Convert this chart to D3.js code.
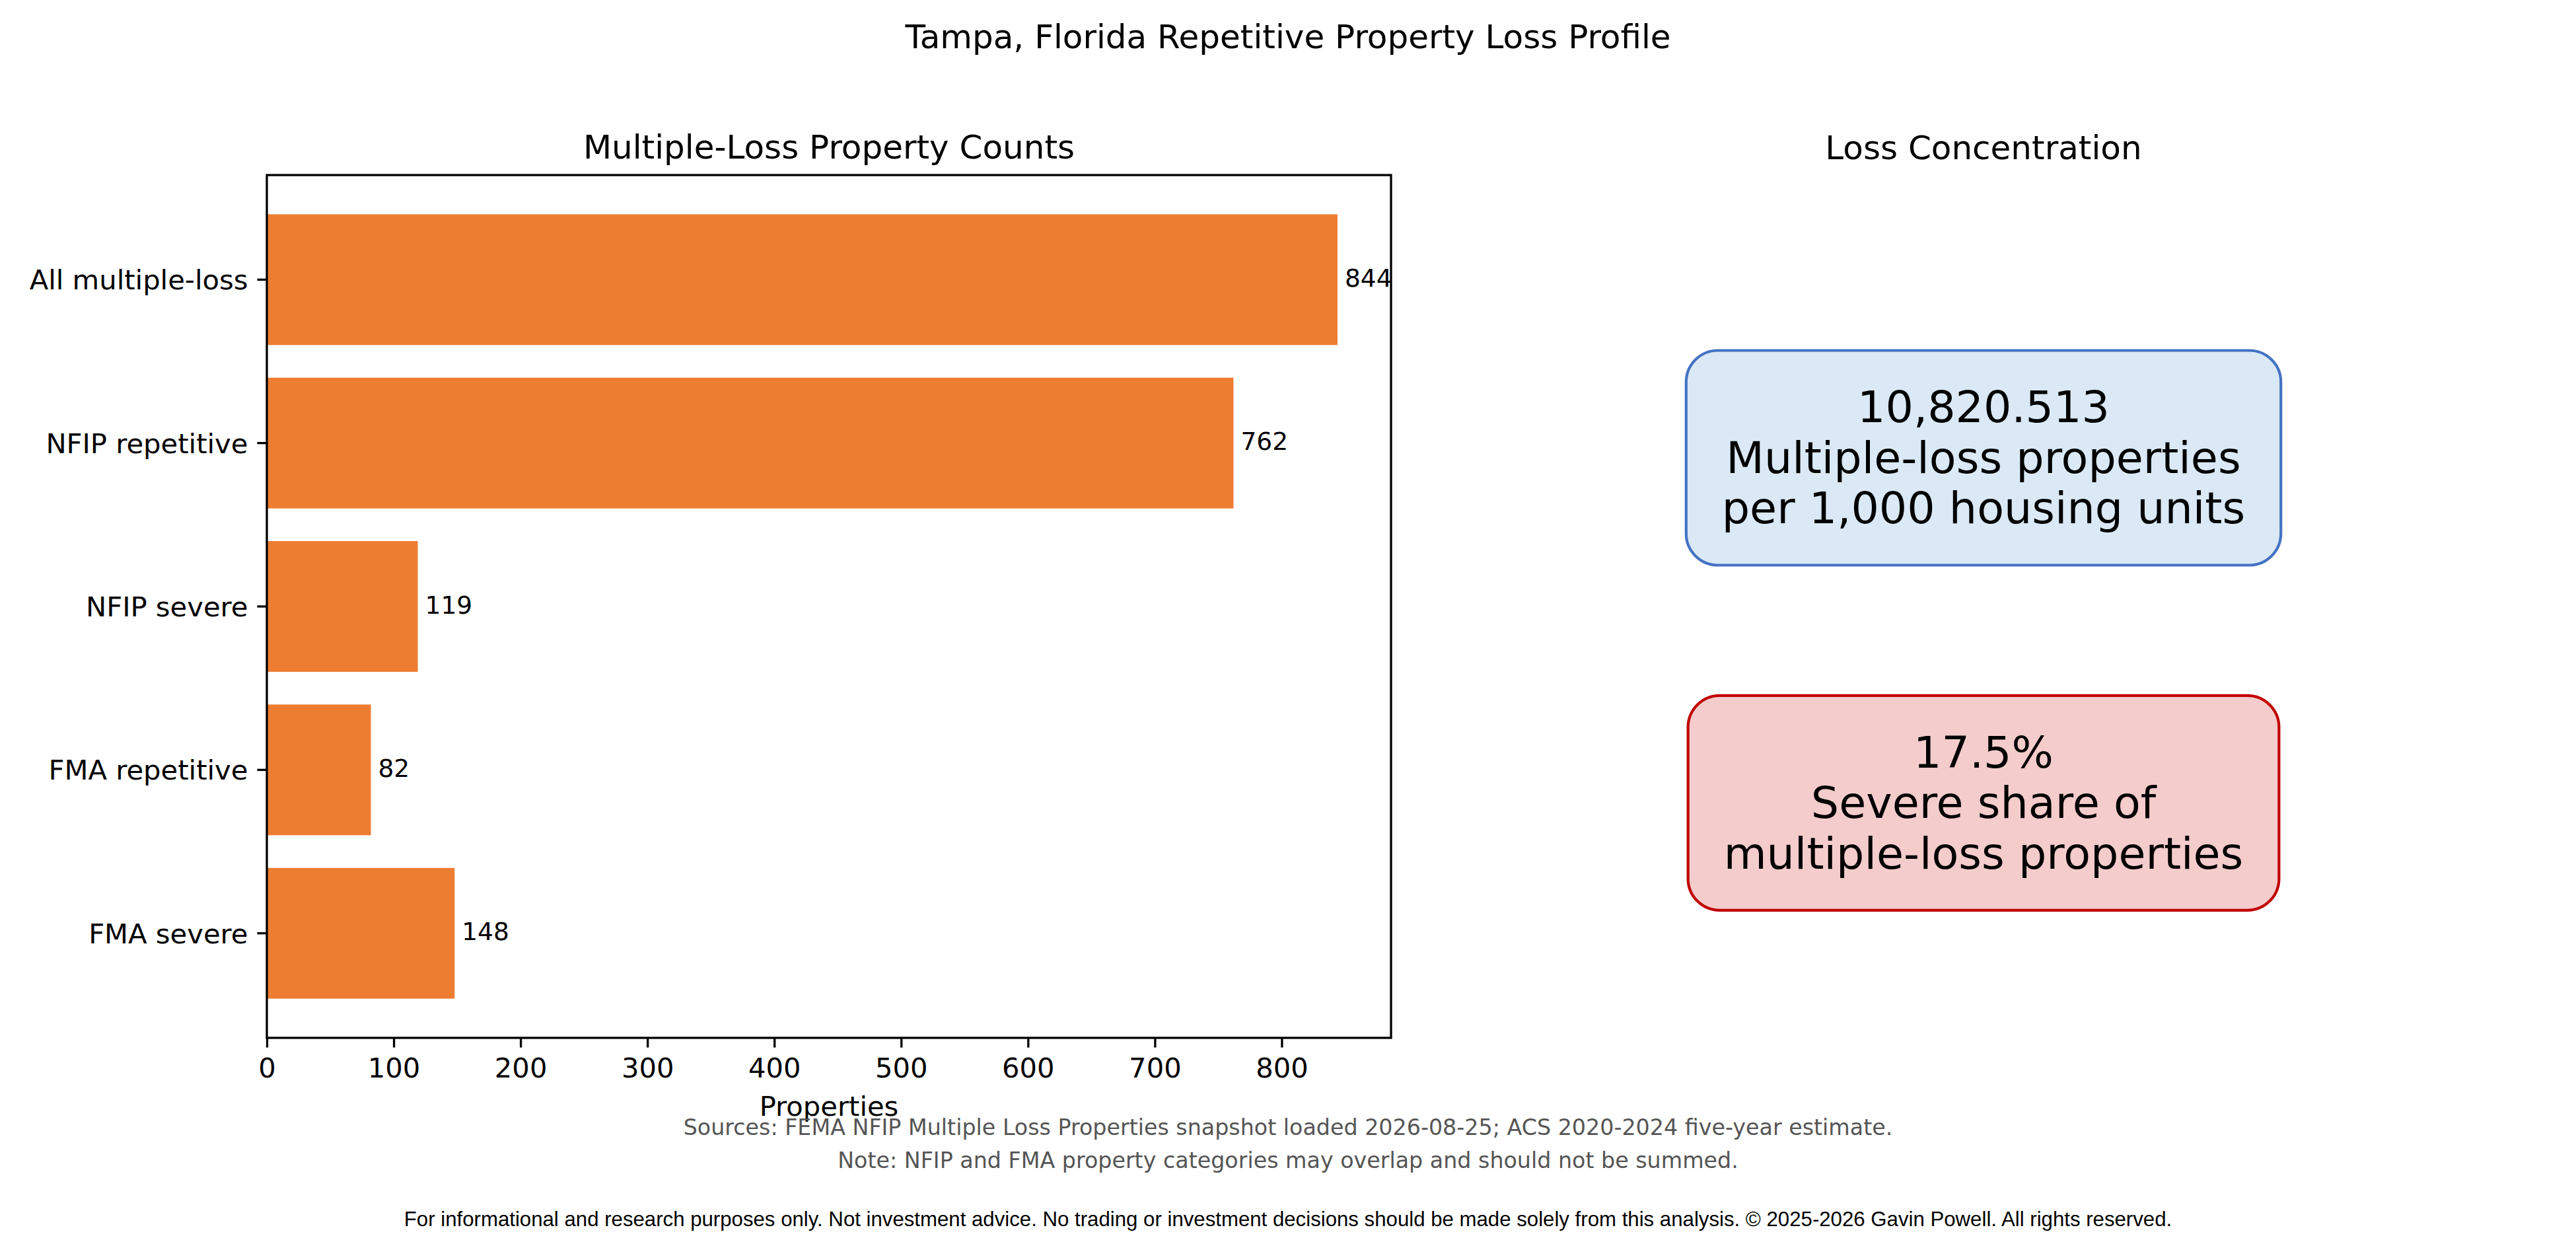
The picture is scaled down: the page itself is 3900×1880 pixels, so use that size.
<!DOCTYPE html>
<html>
<head>
<meta charset="utf-8">
<script src="https://cdn.jsdelivr.net/npm/d3@7"></script>
<style>
  html, body { margin: 0; padding: 0; background: #ffffff; }
  svg text { font-family: "DejaVu Sans", sans-serif; fill: #000; }
</style>
</head>
<body>
<div id="chart"></div>
<script>
// data
const categories = ['All multiple-loss', 'NFIP repetitive', 'NFIP severe', 'FMA repetitive', 'FMA severe'];
const counts     = [844, 762, 119, 82, 148];
const xTicks     = [0, 100, 200, 300, 400, 500, 600, 700, 800];

const kpiValues = ['10,820.513', '17.5%'];
const kpiLabels = [
  ['Multiple-loss properties', 'per 1,000 housing units'],
  ['Severe share of', 'multiple-loss properties']
];
const kpiPos = [0.67, 0.27];   // axes fraction (bottom = 0)

const suptitle   = 'Tampa, Florida Repetitive Property Loss Profile';
const leftTitle  = 'Multiple-Loss Property Counts';
const rightTitle = 'Loss Concentration';
const xLabel     = 'Properties';
const notes = [
  'Sources: FEMA NFIP Multiple Loss Properties snapshot loaded 2026-08-25; ACS 2020-2024 five-year estimate.',
  'Note: NFIP and FMA property categories may overlap and should not be summed.'
];
const footer = 'For informational and research purposes only. Not investment advice. No trading or investment decisions should be made solely from this analysis. \u00a9 2025-2026 Gavin Powell. All rights reserved.';

// Layout (Pixel, 300 dpi)
const W = 3900, H = 1880;
const ax = { left: 404, right: 2106, top: 265, bottom: 1571 };
const rightCenter = 3003;
const BAR_COLOR = '#ED7D31';
const kpiStyle = [
  { fill: '#DAE9F5', stroke: '#4472C4' },
  { fill: '#F4CCCC', stroke: '#C00000' }
];

const svg = d3.select('#chart').append('svg')
  .attr('width', W).attr('height', H)
  .attr('viewBox', `0 0 ${W} ${H}`);

svg.append('rect').attr('width', W).attr('height', H).attr('fill', '#fff');

// Titel
svg.append('text')
  .attr('x', W / 2).attr('y', 73)
  .attr('text-anchor', 'middle')
  .attr('font-size', 50)
  .text(suptitle);

// Skalen
const xMax = d3.max(counts) * 1.05;
const x = d3.scaleLinear().domain([0, xMax]).range([ax.left, ax.right]);
const y = d3.scaleBand()
  .domain(categories)
  .range([ax.top, ax.bottom])
  .paddingInner(0.2)
  .paddingOuter(0.24);

// Balken
svg.append('g').selectAll('rect')
  .data(categories)
  .join('rect')
    .attr('x', x(0))
    .attr('y', d => y(d))
    .attr('width', (d, i) => x(counts[i]) - x(0))
    .attr('height', y.bandwidth())
    .attr('fill', BAR_COLOR);

// Werte an den Balken
svg.append('g').selectAll('text')
  .data(categories)
  .join('text')
    .attr('x', (d, i) => x(counts[i]) + 11)
    .attr('y', d => y(d) + y.bandwidth() / 2 - 3)
    .attr('dy', '0.36em')
    .attr('font-size', 37.5)
    .text((d, i) => counts[i]);

// Achsen
const xAxis = svg.append('g')
  .attr('transform', `translate(0,${ax.bottom})`)
  .call(d3.axisBottom(x).tickValues(xTicks).tickSize(14.6).tickPadding(14).tickSizeOuter(0));
xAxis.selectAll('text').attr('font-size', 41.7).attr('dy', '0.76em');

const yAxis = svg.append('g')
  .attr('transform', `translate(${ax.left},0)`)
  .call(d3.axisLeft(y).tickSize(14.6).tickPadding(14).tickSizeOuter(0));
yAxis.selectAll('text').attr('font-size', 41.7).attr('dy', '0.36em');

[xAxis, yAxis].forEach(g => {
  g.select('.domain').remove();
  g.selectAll('.tick line').attr('stroke', '#000').attr('stroke-width', 3.3);
  g.selectAll('text').style('font-family', '"DejaVu Sans", sans-serif').attr('fill', '#000');
});

// Rahmen
svg.append('rect')
  .attr('x', ax.left).attr('y', ax.top)
  .attr('width', ax.right - ax.left).attr('height', ax.bottom - ax.top)
  .attr('fill', 'none').attr('stroke', '#000').attr('stroke-width', 3.3);

svg.append('text')
  .attr('x', (ax.left + ax.right) / 2).attr('y', 1689)
  .attr('text-anchor', 'middle')
  .attr('font-size', 41.7)
  .text(xLabel);

svg.append('text')
  .attr('x', (ax.left + ax.right) / 2).attr('y', 240)
  .attr('text-anchor', 'middle')
  .attr('font-size', 50)
  .text(leftTitle);

// rechte Seite
svg.append('text')
  .attr('x', rightCenter).attr('y', 241)
  .attr('text-anchor', 'middle')
  .attr('font-size', 50)
  .text(rightTitle);

const yr = d3.scaleLinear().domain([0, 1]).range([ax.bottom, ax.top]);
const KPI_FS = 66.7, LINE = 76.5, PAD_X = 54, PAD_Y = 47;

kpiValues.forEach((v, i) => {
  const cy = yr(kpiPos[i]);
  const g = svg.append('g');
  const box = g.append('rect');
  const t = g.append('text')
    .attr('text-anchor', 'middle')
    .attr('font-size', KPI_FS);
  const lines = [v].concat(kpiLabels[i]);
  lines.forEach((s, j) => {
    t.append('tspan')
      .attr('x', rightCenter)
      .attr('y', cy + (j - 1) * LINE)
      .attr('dy', '0.3em')
      .text(s);
  });
  const bb = t.node().getBBox();
  box.attr('x', bb.x - PAD_X).attr('y', bb.y - PAD_Y)
    .attr('width', bb.width + 2 * PAD_X).attr('height', bb.height + 2 * PAD_Y)
    .attr('rx', 48).attr('ry', 48)
    .attr('fill', kpiStyle[i].fill)
    .attr('stroke', kpiStyle[i].stroke)
    .attr('stroke-width', 4.2);
});

// Quellen & Fußzeile
svg.append('g').selectAll('text')
  .data(notes)
  .join('text')
    .attr('x', W / 2)
    .attr('y', (d, i) => 1718 + i * 50)
    .attr('text-anchor', 'middle')
    .attr('font-size', 33.3)
    .style('fill', '#555555')
    .text(d => d);

svg.append('text')
  .attr('x', W / 2).attr('y', 1856)
  .attr('text-anchor', 'middle')
  .attr('font-size', 31.2)
  .style('font-family', '"Liberation Sans", Arial, sans-serif')
  .text(footer);
</script>
</body>
</html>
